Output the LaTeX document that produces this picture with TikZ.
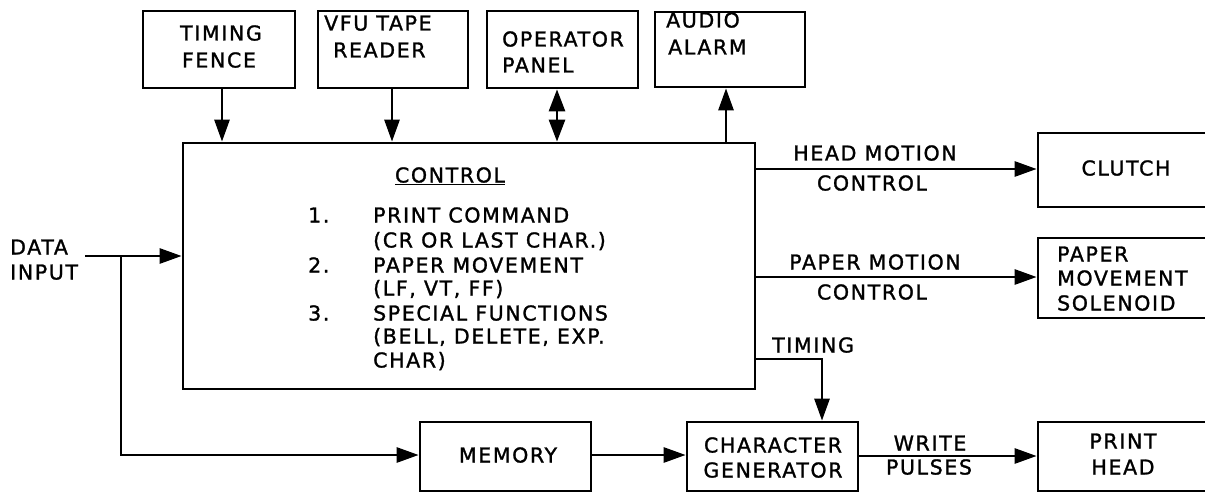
\documentclass[tikz,border=0pt]{standalone}
\usepackage{fontspec}
\newfontfamily\df[LetterSpace=8,FakeBold=1.3]{DejaVu Sans}
\usetikzlibrary{arrows.meta}
\tikzset{
  box/.style={draw, line width=2.7pt, rectangle, inner sep=0pt},
  wire/.style={line width=2.7pt},
  arr/.style={wire, -{Triangle[length=22pt,width=15pt]}},
  darr/.style={wire, {Triangle[length=22pt,width=16pt]}-{Triangle[length=22pt,width=16pt]}},
  txt/.style={inner sep=0pt, font=\df\fontsize{20.5}{24}\selectfont},
}
\begin{document}
\begin{tikzpicture}[x=1pt,y=-1pt]
\useasboundingbox (0,0) rectangle (1205,492);
\clip (0,0) rectangle (1205,492);
% boxes
\node[box, minimum width=152pt, minimum height=77pt] (fence) at (219,49.5) {};
\node[box, minimum width=150pt, minimum height=77pt] (vfu) at (393,49.5) {};
\node[box, minimum width=151pt, minimum height=77pt] (oper) at (562.5,49.5) {};
\node[box, minimum width=150pt, minimum height=75pt] (audio) at (730,49.5) {};
\node[box, minimum width=572pt, minimum height=246pt] (ctrl) at (469,266) {};
\node[box, minimum width=180pt, minimum height=74pt] (clutch) at (1128,170) {};
\node[box, minimum width=180pt, minimum height=80pt] (solen) at (1128,278) {};
\node[box, minimum width=171pt, minimum height=69pt] (mem) at (505.5,456.5) {};
\node[box, minimum width=171pt, minimum height=69pt] (cgen) at (772.5,456.5) {};
\node[box, minimum width=180pt, minimum height=69pt] (phead) at (1128,456.5) {};

% texts
\node[txt, anchor=base] (tf1) at (221,40.5) {TIMING};
\node[txt, anchor=base] (tf2) at (219,67.5) {FENCE};
\node[txt, anchor=base west] (tv1) at (324,30.5) {VFU TAPE};
\node[txt, anchor=base west] (tv2) at (333,57.5) {READER};
\node[txt, anchor=base west] (to1) at (502,46.5) {OPERATOR};
\node[txt, anchor=base west] (to2) at (502,72.5) {PANEL};
\node[txt, anchor=base west] (ta1) at (666,27.5) {AUDIO};
\node[txt, anchor=base west] (ta2) at (668,54.5) {ALARM};

\node[txt, anchor=base] (tc0) at (450,182.5) {\underline{CONTROL}};
\node[txt, anchor=base west] (n1) at (308,222.5) {1.};
\node[txt, anchor=base west] (tc1) at (373,222.5) {PRINT COMMAND};
\node[txt, anchor=base west] (tc2) at (373,247.5) {(CR OR LAST CHAR.)};
\node[txt, anchor=base west] (n2) at (308,272.5) {2.};
\node[txt, anchor=base west] (tc3) at (373,272.5) {PAPER MOVEMENT};
\node[txt, anchor=base west] (tc4) at (373,295.5) {(LF, VT, FF)};
\node[txt, anchor=base west] (n3) at (308,320.5) {3.};
\node[txt, anchor=base west] (tc5) at (373,320.5) {SPECIAL FUNCTIONS};
\node[txt, anchor=base west] (tc6) at (373,343.5) {(BELL, DELETE, EXP.};
\node[txt, anchor=base west] (tc7) at (373,367.5) {CHAR)};

\node[txt, anchor=base west] (td1) at (10,254.5) {DATA};
\node[txt, anchor=base west] (td2) at (10,279.5) {INPUT};

\node[txt, anchor=base] (th1) at (875,160.5) {HEAD MOTION};
\node[txt, anchor=base] (th2) at (872,190.5) {CONTROL};
\node[txt, anchor=base] (tp1) at (875,269.5) {PAPER MOTION};
\node[txt, anchor=base] (tp2) at (872,299.5) {CONTROL};
\node[txt, anchor=base] (tcl) at (1126,175.5) {CLUTCH};
\node[txt, anchor=base west] (ts1) at (1057,261.5) {PAPER};
\node[txt, anchor=base west] (ts2) at (1057,285.5) {MOVEMENT};
\node[txt, anchor=base west] (ts3) at (1057,310.5) {SOLENOID};

\node[txt, anchor=base west] (tt) at (772,352.5) {TIMING};
\node[txt, anchor=base] (tm) at (508,462.5) {MEMORY};
\node[txt, anchor=base] (tg1) at (773,452.5) {CHARACTER};
\node[txt, anchor=base] (tg2) at (773,477.5) {GENERATOR};
\node[txt, anchor=base] (tw1) at (930,450.5) {WRITE};
\node[txt, anchor=base] (tw2) at (929,474.5) {PULSES};
\node[txt, anchor=base] (tph1) at (1123,448.5) {PRINT};
\node[txt, anchor=base] (tph2) at (1123,474.5) {HEAD};

% connectors
\draw[arr] (fence.south -| 222,0) -- (ctrl.north -| 222,0);
\draw[arr] (vfu.south -| 392,0) -- (ctrl.north -| 392,0);
\draw[darr] (oper.south -| 557,0) -- (ctrl.north -| 557,0);
\draw[arr] (ctrl.north -| 726,0) -- (audio.south -| 726,0);

\coordinate (din) at (85,256);
\coordinate (br) at (121,256);
\draw[arr] (din) -- (ctrl.west |- din);
\draw[arr] (br) -- (121,455) -- (mem.west |- 0,455);
\draw[arr] (mem.east |- 0,455) -- (cgen.west |- 0,455);
\draw[arr] (cgen.east |- 0,456) -- (phead.west |- 0,456);
\draw[arr] (ctrl.east |- 0,169) -- (clutch.west |- 0,169);
\draw[arr] (ctrl.east |- 0,277) -- (solen.west |- 0,277);
\draw[arr] (ctrl.east |- 0,359) -- (822,359) -- (cgen.north -| 822,0);
\end{tikzpicture}
\end{document}
